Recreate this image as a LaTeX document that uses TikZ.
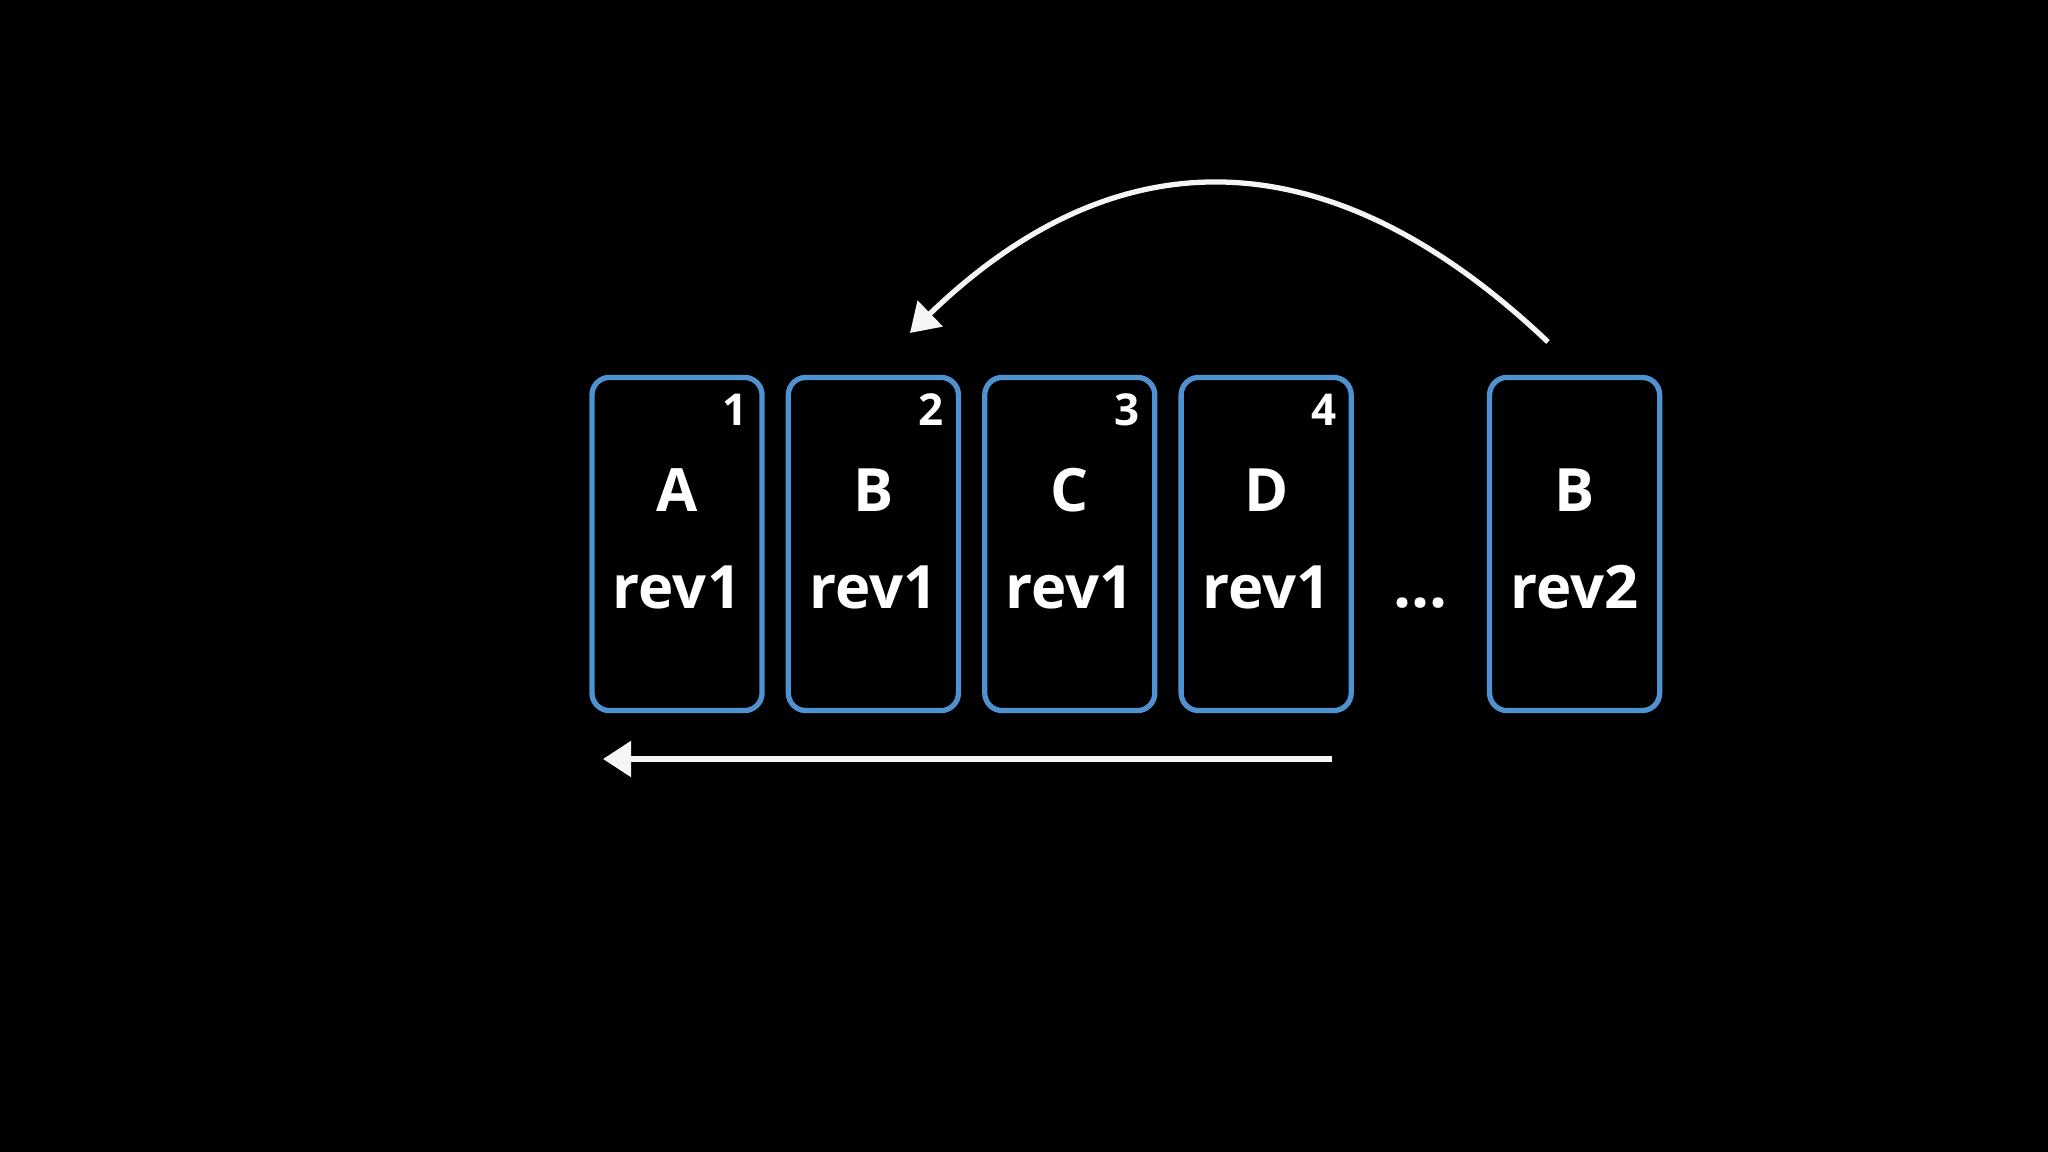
\documentclass[tikz,border=0pt]{standalone}
\usepackage{fontspec}
\setmainfont{Open Sans}
\usetikzlibrary{positioning,arrows.meta,calc}
\definecolor{cardblue}{RGB}{78,146,210}
\definecolor{chalk}{gray}{0.96}
\tikzset{
  card/.style={draw=cardblue,line width=1.5pt,rounded corners=5pt,minimum width=1.70cm,
               minimum height=3.33cm,align=center,inner sep=0pt,text=white,text depth=3pt,
               font=\fontsize{17}{27.6}\selectfont\bfseries},
  num/.style={text=white,inner sep=0pt,font=\fontsize{12.5}{14}\selectfont\bfseries},
  dots/.style={text=white,inner sep=0pt,font=\fontsize{18}{20}\selectfont\bfseries},
  chalkln/.style={draw=chalk,line width=1.5pt,-{Triangle[length=8pt,width=10pt]}},
}
\begin{document}
\begin{tikzpicture}[x=0.01cm,y=-0.01cm]
\fill[black] (0,0) rectangle (2048,1152);

\node[card] (a) at (677,544) {A\\rev1};
\node[card,right=0.21cm of a] (b) {B\\rev1};
\node[card,right=0.21cm of b] (c) {C\\rev1};
\node[card,right=0.21cm of c] (d) {D\\rev1};
\node[card,right=1.33cm of d] (b2) {B\\rev2};

\node[num] (na) at ($(a.north east)+(-30,35)$) {1};
\node[num] (nb) at ($(b.north east)+(-30,35)$) {2};
\node[num] (nc) at ($(c.north east)+(-30,35)$) {3};
\node[num] (nd) at ($(d.north east)+(-30,35)$) {4};

\node[dots] (gap) at ($(d.east)!0.5!(b2.west)+(0,59)$) {...};

\coordinate (arcfrom) at (1548,342);
\coordinate (arcto) at (910,333);
\draw[chalkln] (arcfrom) .. controls (1330,135) and (1118,132) .. (arcto);

\coordinate (backfrom) at (1332,759);
\coordinate (backto) at (603,759);
\draw[chalkln] (backfrom) -- (backto);
\end{tikzpicture}
\end{document}
